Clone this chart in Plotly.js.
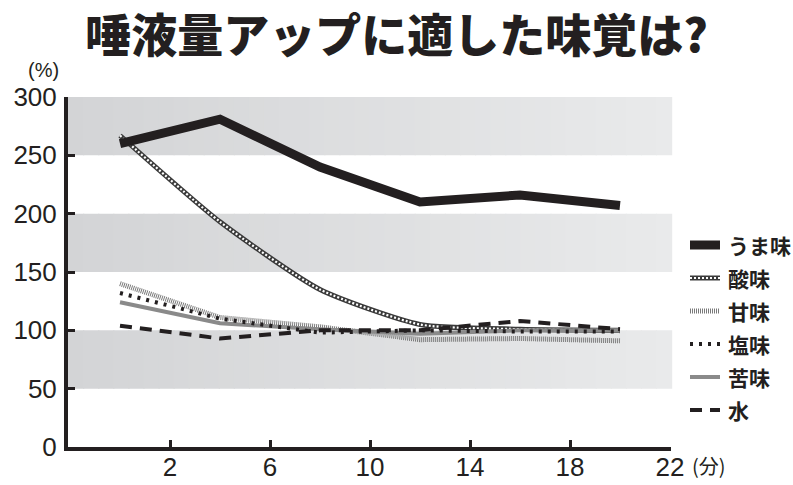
<!DOCTYPE html>
<html>
<head>
<meta charset="utf-8">
<script src="https://cdn.plot.ly/plotly-3.0.1.min.js"></script>
<style>html,body{margin:0;padding:0;background:#fff;}#chart{width:793px;height:485px;}</style>
</head>
<body>
<div id="chart"></div>
<script>
// time (minutes)
var minutes = [0, 4, 8, 12, 16, 20];
// saliva amount (%)
var umami  = [260, 281, 240, 210, 216, 207];
var sour   = [267, 193, 135, 105, 101, 100];
var sweet  = [140, 111, 103, 92, 93, 91];
var salty  = [132, 110, 98, 100, 99, 99];
var bitter = [124, 106, 101, 97, 100, 100];
var water  = [104, 93, 100, 100, 108, 101];
var seriesNames = ['うま味', '酸味', '甘味', '塩味', '苦味', '水'];
var yTicks = [0, 50, 100, 150, 200, 250, 300];
var xTicks = [2, 6, 10, 14, 18, 22];
var bands = [[50, 100], [150, 200], [250, 300]];

var ink = '#231f20';
// line styles, in legend order
var styles = [
  {color: ink, width: 9},
  {color: '#3a3a3a', width: 5, shape: 'spline', smoothing: 0.6},
  {color: '#7a7a7a', width: 5, dash: '1px,1px'},
  {color: ink, width: 4, dash: '3px,6px'},
  {color: '#8a8a8a', width: 4},
  {color: ink, width: 4, dash: '12px,8px'}
];
var sourOverlay = {color: '#ffffff', width: 2.2, dash: '2px,2px', shape: 'spline', smoothing: 0.6};
var seriesData = [umami, sour, sweet, salty, bitter, water];

var drawOrder = [1, 2, 4, 3, 5, 0];
var traces = [];
drawOrder.forEach(function (k) {
  traces.push({x: minutes, y: seriesData[k], name: seriesNames[k], mode: 'lines', line: styles[k], showlegend: false});
  if (k === 1) traces.push({x: minutes, y: sour, name: seriesNames[1], mode: 'lines', line: sourOverlay, showlegend: false});
});

// gradient grey bands made of thin vertical slices
var shapes = [];
var nSlices = 40;
function mix(a, b, t) { return Math.round(a + (b - a) * t); }
bands.forEach(function (b) {
  for (var i = 0; i < nSlices; i++) {
    var t = i / (nSlices - 1);
    var c = 'rgb(' + mix(211, 233, t) + ',' + mix(212, 234, t) + ',' + mix(214, 235, t) + ')';
    shapes.push({type: 'rect', xref: 'paper', yref: 'y', layer: 'below',
      x0: i / nSlices, x1: (i + 1) / nSlices + 0.002, y0: b[0], y1: b[1],
      fillcolor: c, line: {width: 0}});
  }
});

// hand-made legend (paper coordinates)
var plotL = 68, plotW = 603, plotB = 447, plotH = 350;
function px2x(p) { return (p - plotL) / plotW; }
function px2y(p) { return (plotB - p) / plotH; }
var annotations = [];
seriesNames.forEach(function (nm, i) {
  var yy = px2y(245 + i * 33);
  var st = styles[i];
  shapes.push({type: 'line', xref: 'paper', yref: 'paper', x0: px2x(690), x1: px2x(720), y0: yy, y1: yy,
    line: {color: st.color, width: st.width, dash: st.dash || 'solid'}});
  if (i === 1) {
    shapes.push({type: 'line', xref: 'paper', yref: 'paper', x0: px2x(690), x1: px2x(720), y0: yy, y1: yy,
      line: {color: '#ffffff', width: 2.2, dash: '2px,2px'}});
  }
  annotations.push({text: nm, xref: 'paper', yref: 'paper', x: px2x(726), y: yy, showarrow: false,
    xanchor: 'left', yanchor: 'middle',
    font: {family: 'Noto Sans CJK JP', size: 21, weight: 700, color: ink}});
});
annotations.push({text: '(%)', xref: 'paper', yref: 'paper', x: px2x(43), y: px2y(70), showarrow: false,
  xanchor: 'center', yanchor: 'middle', font: {family: 'Liberation Sans, Arial', size: 20, color: ink}});
annotations.push({text: '(分)', xref: 'paper', yref: 'paper', x: px2x(709), y: px2y(465), showarrow: false,
  xanchor: 'center', yanchor: 'middle', font: {family: 'Noto Sans CJK JP', size: 20, color: ink}});

var tickFont = {family: 'Liberation Sans, Arial, sans-serif', size: 26, color: ink};
var layout = {
  width: 793, height: 485,
  margin: {l: 68, r: 122, t: 97, b: 38},
  paper_bgcolor: '#ffffff', plot_bgcolor: '#ffffff',
  showlegend: false,
  title: {text: '唾液量アップに適した味覚は?', xref: 'container', x: 0.5, xanchor: 'center',
    yref: 'container', y: 0.925, yanchor: 'middle',
    font: {family: 'Noto Sans CJK JP', size: 46, weight: 900, color: ink}},
  xaxis: {range: [-2.08, 22.04], tickvals: xTicks, ticktext: xTicks.map(String),
    showgrid: false, zeroline: false, showline: true, linecolor: ink, linewidth: 4,
    ticks: 'inside', ticklen: 7, tickwidth: 3, tickcolor: ink, tickfont: tickFont,
    ticklabelstandoff: -6, fixedrange: true},
  yaxis: {range: [0, 300], tickvals: yTicks, ticktext: yTicks.map(String),
    showgrid: false, zeroline: false, showline: true, linecolor: ink, linewidth: 4,
    ticks: 'inside', ticklen: 7, tickwidth: 3, tickcolor: ink, tickfont: tickFont,
    ticklabelstandoff: 2, fixedrange: true},
  shapes: shapes,
  annotations: annotations
};
Plotly.newPlot('chart', traces, layout, {staticPlot: true});
</script>
</body>
</html>
